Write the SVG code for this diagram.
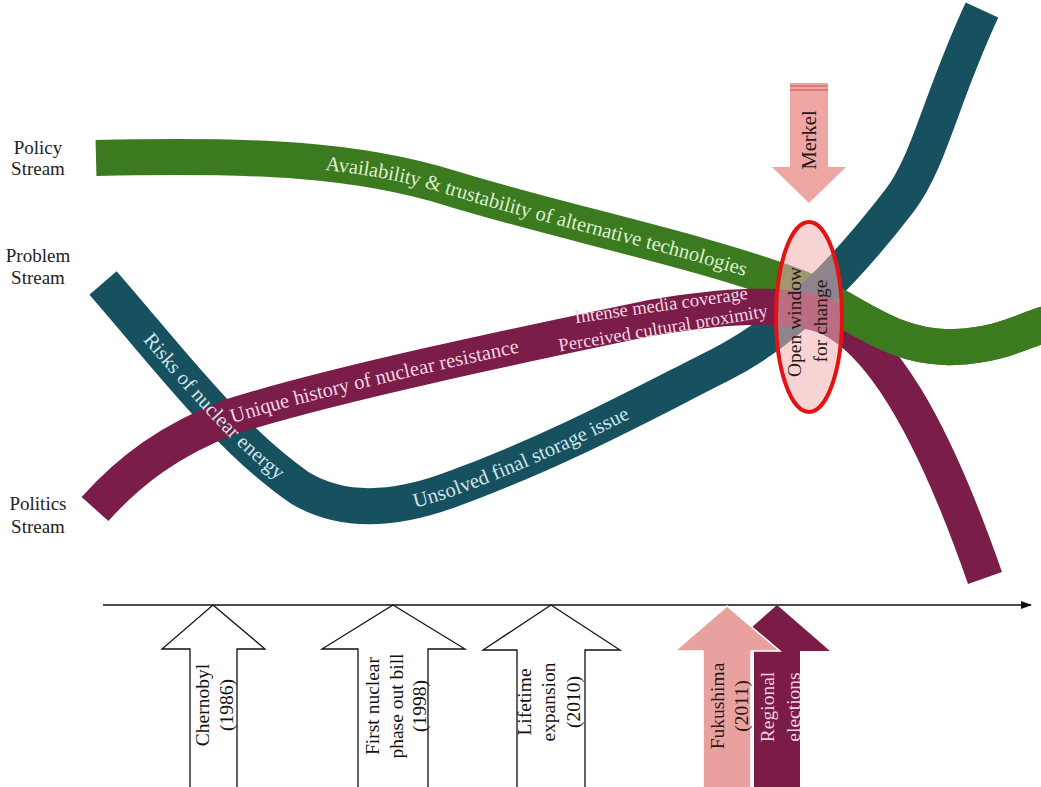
<svg xmlns="http://www.w3.org/2000/svg" width="1041" height="787" viewBox="0 0 1041 787">
<defs>
<marker id="ah" markerWidth="12" markerHeight="10" refX="10" refY="5" orient="auto" markerUnits="userSpaceOnUse"><path d="M0,1 L11,5 L0,9 z" fill="#111"/></marker>
<clipPath id="rightclip"><rect x="840" y="0" width="210" height="787"/></clipPath>
</defs>
<style>
.serif{font-family:"Liberation Serif","Times New Roman",serif;}
.band{fill:none;stroke-width:36;stroke-linecap:butt;}
.stxt{font-family:"Liberation Serif","Times New Roman",serif;font-size:20.5px;}
.side{font-family:"Liberation Serif","Times New Roman",serif;font-size:19px;fill:#222;text-anchor:middle;}
.evt{fill:#fff;stroke:#111;stroke-width:1.3;}
.etxt{font-family:"Liberation Serif","Times New Roman",serif;font-size:19.5px;text-anchor:middle;}
</style>
<rect width="1041" height="787" fill="#fff"/>
<g id="streams">
<path id="p-green" class="band" stroke="#3b7a1f" stroke-width="35" d="M96,158 C260,154 360,160 450,188 C560,222 700,250 800,288 C850,307 890,350 955,347 C1000,345 1020,332 1046,324"/>
<path id="p-teal" class="band" stroke="#17505e" d="M103,283 C170,360 230,440 300,488 C340,512 390,512 450,490 C560,450 650,400 720,365 C790,330 850,265 900,200 C930,160 940,100 982,10"/>
<path id="p-purple" class="band" stroke="#7a1d48" d="M95,509 C130,470 170,440 230,417 C330,385 520,345 650,318 C720,306 790,300 830,318 C880,343 930,420 985,578"/>
<use href="#p-green" clip-path="url(#rightclip)"/>
</g>
<g id="stream-labels">
<text class="stxt" fill="#dff0d2" dy="0.33em" text-anchor="middle"><textPath href="#p-green" startOffset="447">Availability &amp; trustability of alternative technologies</textPath></text>
<text class="stxt" fill="#cfe6ec" dy="0.33em" text-anchor="middle"><textPath href="#p-teal" startOffset="166">Risks of nuclear energy</textPath></text>
<text class="stxt" fill="#cfe6ec" dy="0.33em" text-anchor="middle"><textPath href="#p-teal" startOffset="518">Unsolved final storage issue</textPath></text>
<text class="stxt" fill="#f6d2e2" dy="0.33em" text-anchor="middle"><textPath href="#p-purple" startOffset="314">Unique history of nuclear resistance</textPath></text>
<text class="serif" font-size="18.5" fill="#f6d2e2" text-anchor="middle" transform="translate(662,311) rotate(-8)">Intense media coverage</text>
<text class="serif" font-size="18.5" fill="#f6d2e2" text-anchor="middle" transform="translate(664,334) rotate(-9.5)">Perceived cultural proximity</text>
</g>
<g id="window">
<ellipse cx="809" cy="317" rx="33" ry="95" fill="#f0aeb0" fill-opacity="0.55" stroke="#e31313" stroke-width="4"/>
<text class="serif" font-size="19.5" fill="#2a1818" text-anchor="middle" transform="translate(801,322) rotate(-90)">Open window</text>
<text class="serif" font-size="19.5" fill="#2a1818" text-anchor="middle" transform="translate(827,321) rotate(-90)">for change</text>
</g>
<g id="merkel">
<polygon points="790,83 828,83 828,167 846,167 809,203 772,167 790,167" fill="#efa6a3"/>
<line x1="790" y1="86" x2="828" y2="86" stroke="#d76b6b" stroke-width="1.5"/>
<line x1="790" y1="90" x2="828" y2="90" stroke="#d76b6b" stroke-width="1.5"/>
<text class="serif" font-size="20.5" fill="#2a1818" text-anchor="middle" transform="translate(816,140) rotate(-90)">Merkel</text>
</g>
<g id="connectors">
<line x1="103" y1="605" x2="1031" y2="605" stroke="#111" stroke-width="1.5" marker-end="url(#ah)"/>
</g>
<g id="chernobyl">
<polygon class="evt" points="213,605 265,649 237,649 237,792 190,792 190,649 162,649"/>
<text class="etxt" fill="#111" transform="translate(209,705) rotate(-90)">Chernobyl</text>
<text class="etxt" fill="#111" transform="translate(233,705) rotate(-90)">(1986)</text>
</g>
<g id="phaseout">
<polygon class="evt" points="393,605 465,649 428,649 428,792 358,792 358,649 322,649"/>
<text class="etxt" fill="#111" transform="translate(379,706) rotate(-90)">First nuclear</text>
<text class="etxt" fill="#111" transform="translate(403,706) rotate(-90)">phase out bill</text>
<text class="etxt" fill="#111" transform="translate(426,706) rotate(-90)">(1998)</text>
</g>
<g id="lifetime">
<polygon class="evt" points="551,605 620,650 585,650 585,792 517,792 517,650 483,650"/>
<text class="etxt" fill="#111" transform="translate(531,702) rotate(-90)">Lifetime</text>
<text class="etxt" fill="#111" transform="translate(555,702) rotate(-90)">expansion</text>
<text class="etxt" fill="#111" transform="translate(580,702) rotate(-90)">(2010)</text>
</g>
<g id="regional">
<polygon points="777,605 830,651 800,651 800,792 754,792 754,651 725,651" fill="#7b1c47"/>
<text class="etxt" fill="#f2d3df" transform="translate(774,707) rotate(-90)">Regional</text>
<text class="etxt" fill="#f2d3df" transform="translate(800,707) rotate(-90)">elections</text>
</g>
<g id="fukushima">
<polygon points="727,606 780,651 751,651 751,792 703,792 703,651 675,651" fill="#e9a19f" stroke="#fff" stroke-width="1.5"/>
<text class="etxt" fill="#2a1818" transform="translate(724,706) rotate(-90)">Fukushima</text>
<text class="etxt" fill="#2a1818" transform="translate(748,706) rotate(-90)">(2011)</text>
</g>
<g id="side-labels">
<text class="side" x="38" y="154">Policy</text>
<text class="side" x="38" y="175">Stream</text>
<text class="side" x="38" y="262">Problem</text>
<text class="side" x="38" y="284">Stream</text>
<text class="side" x="38" y="510">Politics</text>
<text class="side" x="38" y="533">Stream</text>
</g>
</svg>
